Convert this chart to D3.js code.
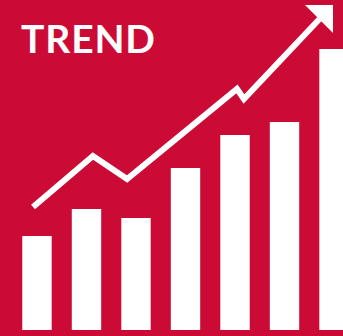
<!DOCTYPE html>
<html><head><meta charset="utf-8">
<script src="https://cdn.jsdelivr.net/npm/d3@7"></script>
<style>html,body{margin:0;padding:0;background:#cb0a35;overflow:hidden}svg{display:block}</style>
</head><body>
<script>
const categories = ["1","2","3","4","5","6","7"];
const barValues = [94, 121, 112, 162, 195, 208, 281];
// trend line: position in category units (0 = centre of first bar), value
const linePos = [-0.08, 1.13, 1.82, 4.04, 4.18, 5.84];
const lineValues = [123, 174, 151, 241, 231, 318];
const arrowTip = {pos: 5.98, value: 325};
const title = "TREND";

const W = 343, H = 336;
const svg = d3.select("body").append("svg").attr("width", W).attr("height", H);
svg.append("rect").attr("width", W).attr("height", H).attr("fill", "#cb0a35");

const x = d3.scaleBand().domain(categories).range([0, 371]).paddingInner(0.406).paddingOuter(0.45);
const y = d3.scaleLinear().domain([0, 300]).range([330, 30]);
const c0 = x(categories[0]) + x.bandwidth()/2;
const xl = d3.scaleLinear().domain([0, 1]).range([c0, c0 + x.step()]);

svg.selectAll("rect.bar").data(barValues).join("rect").attr("class","bar")
  .attr("x", (d,i) => x(categories[i])).attr("width", x.bandwidth())
  .attr("y", d => y(d)).attr("height", d => y(0) - y(d)).attr("fill", "#fff");

const pts = linePos.map((p,i) => [xl(p), y(lineValues[i])]);
svg.append("path").attr("d", d3.line()(pts)).attr("fill","none").attr("stroke","#fff")
  .attr("stroke-width", 6).attr("stroke-linejoin","miter").attr("stroke-linecap","butt");

const tx = xl(arrowTip.pos), ty = y(arrowTip.value), s = 28;
svg.append("path").attr("d", `M${tx},${ty}L${tx-s},${ty}L${tx},${ty+s}Z`).attr("fill","#fff");

svg.append("text").attr("x", 21).attr("y", 53.3).text(title)
  .attr("fill","#fff").attr("font-family","Lato").attr("font-weight","bold")
  .attr("font-size", 39).attr("textLength", 134).attr("lengthAdjust", "spacing");
</script>
</body></html>
